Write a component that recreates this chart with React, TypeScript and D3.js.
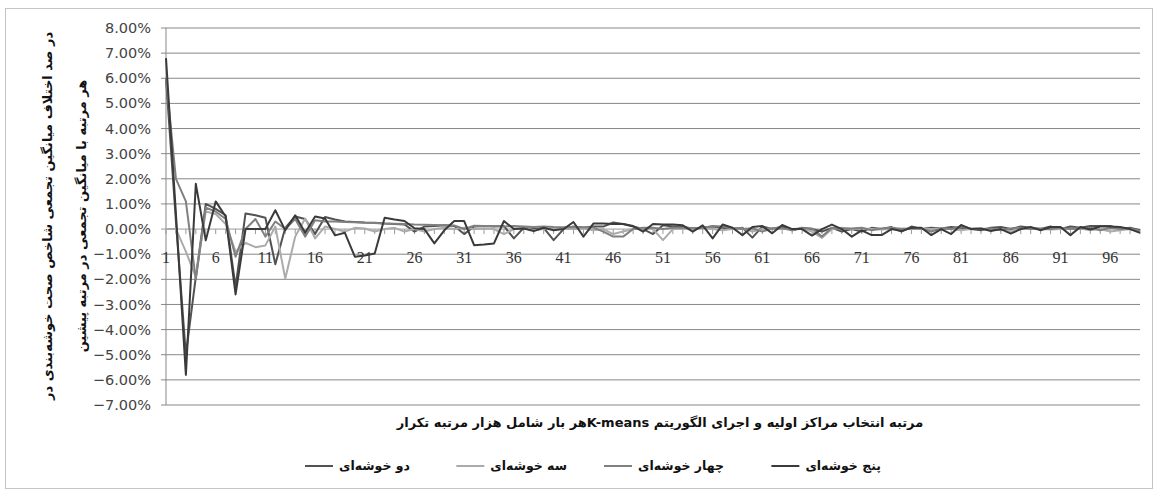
import React from "react";
import * as d3 from "d3";

// ---------- DATA ----------
const categories: number[] = d3.range(1, 100);
const xTickLabels: number[] = [1, 6, 11, 16, 21, 26, 31, 36, 41, 46, 51, 56, 61, 66, 71, 76, 81, 86, 91, 96];
const yTicks: number[] = [8, 7, 6, 5, 4, 3, 2, 1, 0, -1, -2, -3, -4, -5, -6, -7];

const seriesNames: string[] = ["دو خوشه‌ای", "سه خوشه‌ای", "چهار خوشه‌ای", "پنج خوشه‌ای"];

const twoCluster: number[] = [
  6.0, 0.3, -5.0, -1.9, 1.0, 0.8, 0.55, -2.3, 0.62, 0.55,
  0.45, -1.4, 0.05, 0.5, 0.4, -0.2, 0.48, 0.38, 0.3, 0.28,
  0.26, 0.25, 0.22, 0.2, 0.18, -0.1, 0.1, 0.12, 0.15, 0.12,
  -0.2, 0.1, 0.12, 0.1, 0.12, -0.37, 0.05, 0.0, 0.05, -0.44,
  0.0, 0.1, 0.05, 0.1, 0.1, 0.26, 0.2, 0.1, 0.0, -0.2,
  0.15, 0.1, 0.1, 0.0, 0.05, 0.1, 0.05, 0.0, 0.05, -0.34,
  0.1, 0.0, 0.1, -0.05, 0.05, 0.0, -0.1, 0.05, -0.1, 0.0,
  -0.1, 0.05, 0.0, 0.08, -0.1, 0.1, 0.0, 0.05, 0.02, 0.08,
  0.05, 0.0, -0.05, 0.05, 0.08, 0.0, 0.1, 0.05, 0.0, 0.1,
  0.0, 0.1, 0.05, 0.12, 0.12, 0.12, 0.0, 0.05, -0.05,
];

const threeCluster: number[] = [
  0.0, 0.0, -0.9, -1.9, 0.7, 0.6, 0.2, -0.9, -0.55, -0.72,
  -0.65, 0.1, -1.97, -0.3, 0.42, -0.37, 0.1, 0.0, -0.1, 0.05,
  0.02, -0.1, 0.0, 0.05, -0.1, 0.0, -0.1, 0.0, 0.05, 0.0,
  0.05, 0.0, 0.02, 0.0, -0.2, 0.0, 0.05, -0.05, 0.0, 0.02,
  0.0, 0.0, 0.02, -0.05, 0.0, -0.2, -0.1, 0.0, 0.02, 0.0,
  -0.44, 0.0, 0.02, 0.0, 0.05, 0.0, -0.05, 0.0, 0.02, -0.1,
  0.0, 0.02, 0.0, 0.0, 0.02, -0.1, -0.35, 0.0, 0.05, 0.0,
  0.02, 0.0, -0.02, 0.0, 0.02, 0.0, 0.0, 0.0, 0.02, 0.0,
  -0.05, 0.0, 0.02, -0.05, 0.0, -0.1, 0.0, 0.02, 0.0, -0.02,
  0.0, 0.0, 0.02, -0.05, 0.0, -0.1, -0.05, 0.0, -0.1,
];

const fourCluster: number[] = [
  6.0, 2.0, 1.1, -2.0, 0.85, 0.7, 0.4, -1.1, 0.0, 0.4,
  -0.3, 0.3, 0.0, 0.4, -0.3, 0.35, 0.3, 0.3, 0.28, 0.27,
  0.25, 0.24, 0.22, 0.21, 0.2, 0.18, 0.17, 0.16, 0.15, 0.14,
  0.0, 0.13, 0.12, 0.12, 0.1, 0.12, 0.1, 0.08, 0.1, 0.08,
  0.07, 0.08, 0.07, 0.06, -0.1, -0.3, -0.3, 0.0, 0.05, 0.05,
  0.0, 0.05, 0.05, 0.04, 0.04, 0.12, 0.1, 0.04, 0.0, 0.03,
  -0.1, 0.03, 0.03, -0.05, 0.03, 0.02, -0.3, 0.05, 0.02, 0.02,
  0.05, -0.05, 0.02, 0.05, 0.0, 0.02, 0.02, -0.1, 0.02, 0.0,
  0.1, 0.02, 0.0, 0.02, -0.05, 0.02, 0.05, 0.0, 0.02, 0.0,
  0.05, 0.0, 0.02, 0.05, -0.05, 0.05, 0.0, 0.02, -0.08,
];

const fiveCluster: number[] = [
  6.8, 0.6, -5.8, 1.8, -0.45, 1.1, 0.5, -2.6, 0.0, 0.0,
  0.0, 0.75, -0.05, 0.55, -0.15, 0.5, 0.42, -0.25, -0.15, -1.1,
  -1.05, -0.97, 0.45, 0.38, 0.32, 0.03, 0.0, -0.57, -0.05, 0.32,
  0.32, -0.64, -0.61, -0.57, 0.32, 0.0, 0.02, -0.08, 0.05, -0.05,
  0.0, 0.28, -0.3, 0.22, 0.22, 0.2, 0.2, 0.12, -0.1, 0.2,
  0.18, 0.18, 0.15, -0.1, 0.15, -0.37, 0.18, 0.05, -0.24, 0.08,
  0.12, -0.17, 0.16, 0.0, 0.0, -0.26, 0.0, 0.18, 0.0, -0.3,
  -0.05, -0.24, -0.24, 0.0, -0.08, 0.05, 0.05, -0.24, 0.0, -0.2,
  0.16, 0.0, 0.02, -0.08, 0.0, -0.18, 0.0, 0.08, -0.05, 0.08,
  0.08, -0.24, 0.08, -0.02, 0.1, 0.1, 0.08, 0.0, -0.15,
];

const seriesValues: number[][] = [twoCluster, threeCluster, fourCluster, fiveCluster];
const seriesColors: string[] = ["#525252", "#ababab", "#808080", "#3a3a3a"];

const xTitle = "مرتبه انتخاب مراکز اولیه و اجرای الگوریتم K-meansهر بار شامل هزار مرتبه تکرار";
const yTitleLine1 = "در صد اختلاف میانگین تجمعی شاخص صحت خوشه‌بندی در";
const yTitleLine2 = "هر مرتبه با میانگین تجمعی در مرتبه پیشین";

const ARABIC_FONT = "'DejaVu Sans'";

let measureCtx: CanvasRenderingContext2D | null = null;
function measure(text: string, font: string): number {
  if (!measureCtx) {
    const c = document.createElement("canvas");
    measureCtx = c.getContext("2d");
  }
  if (!measureCtx) return text.length * 7;
  measureCtx.font = font;
  return measureCtx.measureText(text).width;
}

export default function App() {
  const W = 1158, H = 493;
  const left = 166, right = 1140, top = 28, bottom = 405;
  const x = d3.scaleLinear().domain([1, 99]).range([left, right]);
  const y = d3.scaleLinear().domain([-7, 8]).range([bottom, top]);
  const line = d3.line<number>().x((_, i) => x(categories[i])).y((d) => y(d));

  const legSize = 12.5;
  const legFont = `bold ${legSize}px ${ARABIC_FONT}`;
  const legendRightEdges = [410, 567, 724, 881];
  const legendItems = seriesNames.map((name, si) => {
    const w = measure(name, legFont);
    const r = legendRightEdges[si];
    const lx2 = r - w - 6;
    return { si, name, cx: r - w / 2, lx1: lx2 - 28, lx2 };
  });

  return (
    <svg width={W} height={H} style={{ position: "absolute", left: 0, top: 0, background: "#fff" }}>
      <rect x={5.5} y={8.5} width={1147} height={480} fill="#fff" stroke="#c4c4c4" />
      {/* gridlines */}
      {yTicks.map((t) => (
        <line key={"g" + t} x1={left - 5} x2={right} y1={y(t)} y2={y(t)} stroke={t === 0 ? "#9a9a9a" : "#878787"} strokeWidth={1} />
      ))}
      {/* y axis */}
      <line x1={left} x2={left} y1={top} y2={bottom} stroke="#878787" />
      {yTicks.map((t) => (
        <text key={"yl" + t} x={151} y={y(t)} dy="0.35em" textAnchor="end" fontFamily="'DejaVu Sans', sans-serif" fontSize={14.5} fill="#444">
          {d3.format(".2f")(t) + "%"}
        </text>
      ))}
      {/* x ticks */}
      {categories.map((c) => (
        <line key={"xt" + c} x1={x(c)} x2={x(c)} y1={y(0)} y2={y(0) + 5} stroke="#9a9a9a" />
      ))}
      {xTickLabels.map((c) => (
        <text key={"xl" + c} x={x(c)} y={263} textAnchor="middle" fontFamily="'Liberation Serif', serif" fontSize={16} fill="#333">
          {c}
        </text>
      ))}
      {/* series */}
      {seriesValues.map((vals, i) => (
        <path key={"s" + i} d={line(vals) || ""} fill="none" stroke={seriesColors[i]} strokeWidth={2} strokeLinejoin="round" />
      ))}
      {/* x title (right-to-left paragraph) */}
      <text x={660} y={427} textAnchor="middle" direction="rtl" fontFamily={ARABIC_FONT} fontWeight="bold" fontSize={13} fill="#111">
        {xTitle}
      </text>
      {/* y title */}
      <g transform="translate(52,216) rotate(-90)">
        <text x={0} y={0} textAnchor="middle" fontFamily={ARABIC_FONT} fontWeight="bold" fontSize={13} fill="#111">{yTitleLine1}</text>
        <text x={0} y={34} textAnchor="middle" fontFamily={ARABIC_FONT} fontWeight="bold" fontSize={13} fill="#111">{yTitleLine2}</text>
      </g>
      {/* legend */}
      {legendItems.map((item) => (
        <g key={"lg" + item.si}>
          <line x1={item.lx1} x2={item.lx2} y1={466} y2={466} stroke={seriesColors[item.si]} strokeWidth={2} />
          <text x={item.cx} y={470} textAnchor="middle" direction="rtl" fontFamily={ARABIC_FONT} fontWeight="bold" fontSize={legSize} fill="#111">
            {item.name}
          </text>
        </g>
      ))}
    </svg>
  );
}
